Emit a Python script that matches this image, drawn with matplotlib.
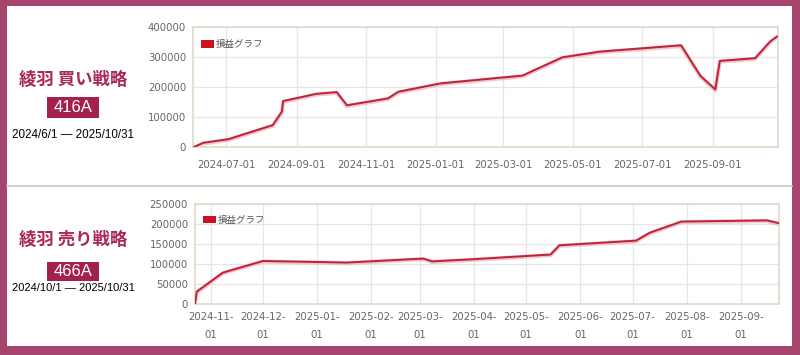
import numpy as np
import matplotlib
matplotlib.use("Agg")
import matplotlib.pyplot as plt
import matplotlib.dates as mdates
from matplotlib.patches import Rectangle, Patch
from matplotlib.lines import Line2D

plt.rcParams['font.family'] = ['Noto Sans CJK JP', 'DejaVu Sans']

# buy strategy (416A) cumulative P/L
buy_dates = ["2024-06-03", "2024-06-11", "2024-07-03", "2024-08-11", "2024-08-17",
             "2024-08-19", "2024-08-20", "2024-09-18", "2024-10-06", "2024-10-15",
             "2024-11-20", "2024-11-29", "2025-01-05", "2025-03-18", "2025-04-22",
             "2025-05-25", "2025-08-04", "2025-08-21", "2025-09-03", "2025-09-07",
             "2025-10-08", "2025-10-21", "2025-10-27"]
buy_pl = [0, 14000, 26000, 73000, 107000,
          118000, 153000, 177000, 183000, 139000,
          162000, 184000, 212000, 238000, 299000,
          318000, 339000, 237000, 192000, 287000,
          296000, 351000, 368000]

# sell strategy (466A) cumulative P/L
sell_dates = ["2024-10-23", "2024-10-24", "2024-11-08", "2024-12-01", "2025-01-01",
              "2025-01-18", "2025-01-31", "2025-03-03", "2025-03-08", "2025-03-30",
              "2025-05-15", "2025-05-20", "2025-07-03", "2025-07-11", "2025-07-29",
              "2025-09-16", "2025-09-23"]
sell_pl = [0, 30600, 78000, 107000, 104500,
           103000, 106000, 113000, 106000, 111000,
           123000, 146000, 157600, 177500, 205000,
           208000, 201000]

buy_title = "綾羽 買い戦略"
sell_title = "綾羽 売り戦略"
buy_code = "416A"
sell_code = "466A"
buy_period = "2024/6/1 — 2025/10/31"
sell_period = "2024/10/1 — 2025/10/31"
legend_label = "損益グラフ"

W, H = 800, 355
fig = plt.figure(figsize=(W / 100, H / 100), dpi=100)
fig.patch.set_facecolor("#a8456f")


def px_rect(x0, y0, x1, y1):
    return [x0 / W, 1 - y1 / H, (x1 - x0) / W, (y1 - y0) / H]


# white panel and separator
l, b, w, h = px_rect(7, 6, 792, 346)
fig.patches.append(Rectangle((l, b), w, h, transform=fig.transFigure,
                             facecolor="white", edgecolor="none", zorder=-5))
fig.lines.append(Line2D([7 / W, 792 / W], [1 - 186 / H, 1 - 186 / H],
                        transform=fig.transFigure, color="#c8c8c8", lw=1.2,
                        zorder=-4))


def side_text(title, code, period, y_title, badge_y0, badge_y1, y_period, psize):
    cx = 73 / W
    fig.text(cx, 1 - y_title / H, title, ha="center", va="center",
             fontsize=12.5, fontweight="bold", color="#a8285a")
    l, b, w, h = px_rect(47, badge_y0, 99, badge_y1)
    fig.patches.append(Rectangle((l, b), w, h, transform=fig.transFigure,
                                 facecolor="#a3204f", edgecolor="none", zorder=-3))
    fig.text(cx, 1 - (badge_y0 + badge_y1) / 2 / H, code, ha="center", va="center",
             fontsize=12, color="white", family=['Liberation Sans', 'DejaVu Sans'])
    fig.text(cx, 1 - y_period / H, period, ha="center", va="center",
             fontsize=psize, color="#000000", family=['Liberation Sans', 'DejaVu Sans'])


side_text(buy_title, buy_code, buy_period, 80, 97, 118, 135, 8.4)
side_text(sell_title, sell_code, sell_period, 240, 262, 281, 288, 8.0)


def draw(ax, dates, values, ylim, yticks, locator, fmt, xlim, xpad):
    d = np.array(dates, dtype="datetime64[D]")
    ax.plot(d, np.array(values) - ylim[1] * 0.006, color="#eab0b6", lw=3.0,
            alpha=0.7, zorder=2, solid_joinstyle="round")
    ax.plot(d, values, color="#c02038", lw=1.4, zorder=3, solid_joinstyle="round")
    ax.set_ylim(*ylim)
    ax.set_yticks(yticks)
    ax.set_xlim(np.datetime64(xlim[0]), np.datetime64(xlim[1]))
    ax.xaxis.set_major_locator(locator)
    ax.xaxis.set_major_formatter(mdates.DateFormatter(fmt))
    ax.grid(True, color="#e6e6e6", lw=0.9)
    ax.set_axisbelow(True)
    for s in ax.spines.values():
        s.set_color("#dcdcc8")
        s.set_linewidth(1.2)
    ax.tick_params(length=0, labelsize=7.3, colors="#666666", pad=5)
    ax.tick_params(axis="x", pad=xpad)
    for t in ax.get_xticklabels():
        t.set_family(['DejaVu Sans'])
        t.set_linespacing(1.9)
    for t in ax.get_yticklabels():
        t.set_family(['DejaVu Sans'])
    ax.legend(handles=[Patch(facecolor="#cc1122", edgecolor="none", label=legend_label)],
              loc="upper left", bbox_to_anchor=(0.0, 0.955), fontsize=6.8,
              frameon=False, handlelength=1.4, handleheight=0.9, borderaxespad=0.4,
              handletextpad=0.2, labelcolor="#555555")


ax1 = fig.add_axes(px_rect(193, 27, 778, 147))
draw(ax1, buy_dates, buy_pl, (0, 400000), np.arange(0, 400001, 100000),
     mdates.MonthLocator(bymonth=[1, 3, 5, 7, 9, 11]), "%Y-%m-%d",
     ("2024-06-02", "2025-10-28"), 9)

ax2 = fig.add_axes(px_rect(195, 203.5, 779, 304))
draw(ax2, sell_dates, sell_pl, (0, 250000), np.arange(0, 250001, 50000),
     mdates.MonthLocator(), "%Y-%m-\n%d",
     ("2024-10-23", "2025-09-23"), 6)

fig.savefig("out.png", dpi=100, facecolor=fig.get_facecolor())
